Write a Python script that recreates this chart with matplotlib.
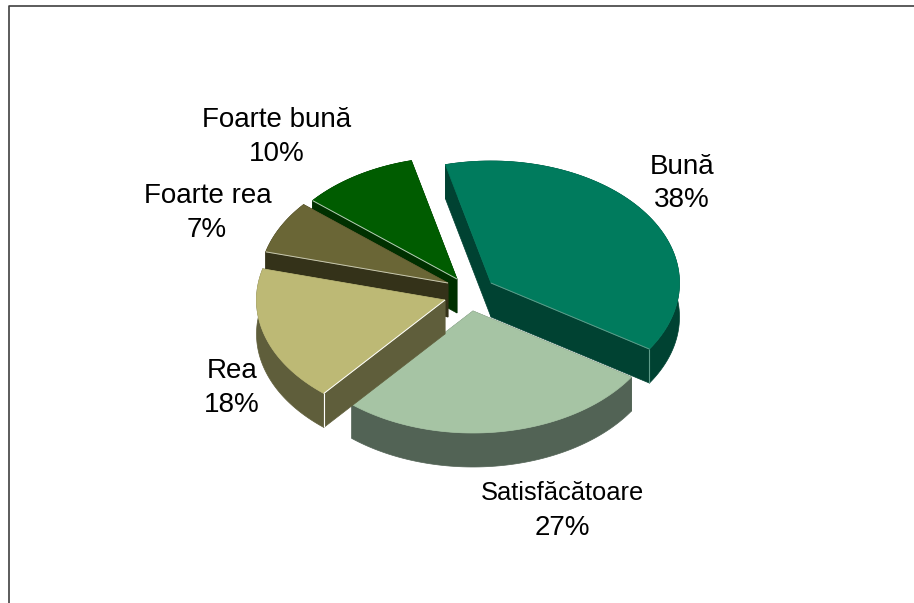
import numpy as np
import matplotlib
matplotlib.use("Agg")
import matplotlib.pyplot as plt
from matplotlib.patches import Polygon

plt.rcParams["font.family"] = ["Liberation Sans", "DejaVu Sans"]

# clockwise from the start angle
categories = ["Bună", "Satisfăcătoare", "Rea", "Foarte rea", "Foarte bună"]
values = [38, 27, 18, 7, 10]

top_colors = ["#007B5D", "#A6C4A4", "#BDB975", "#6A6636", "#005C00"]
side_colors = ["#004232", "#526355", "#5F5E3B", "#343219", "#003000"]
edge_colors = ["#5E9C8A", None, "#FFFFFF", "#C8C8B0", "#B8CDB8"]

# pixel layout of the exploded slices
centers = [(491, 283), (473, 311), (445, 300), (448, 283), (457, 279)]
name_pos = [(682, 164), (562, 491), (232, 368), (208, 193), (277, 117)]
pct_pos = [(682, 197), (562, 525), (232, 402), (207, 227), (277, 151)]
name_sizes = [20, 18.4, 20, 20, 20]
draw_order = [1, 4, 3, 2, 0]

START = 104
RX, RY = 188.5, 122
DEPTH = 34


def arc(center, a0, a1):
    t = np.radians(np.linspace(a0, a1, 80))
    return np.column_stack([center[0] + RX * np.cos(t), center[1] - RY * np.sin(t)])


def draw_slice(ax, i, a0, a1, z):
    c = np.array(centers[i], dtype=float)
    pts = arc(c, a0, a1)
    down = np.array([0, DEPTH])
    side = side_colors[i]

    # radial walls, then the rim, then the top face
    for p in (pts[0], pts[-1]):
        ax.add_patch(Polygon([c, p, p + down, c + down], fc=side, ec=side, lw=0.5, zorder=z))
    rim = np.vstack([pts, (pts + down)[::-1]])
    ax.add_patch(Polygon(rim, fc=side, ec=side, lw=0.5, zorder=z))
    top = np.vstack([c, pts])
    ax.add_patch(Polygon(top, fc=top_colors[i], ec=top_colors[i], lw=0.5, zorder=z + 0.1))

    # thin light line along the lit edge, plus the vertical corner on two slices
    if edge_colors[i] is None:
        return
    p = pts[-1] if i == 0 else pts[0]
    ax.plot([c[0], p[0]], [c[1], p[1]], color=edge_colors[i], lw=0.7,
            solid_capstyle="butt", zorder=z + 0.2)
    if i in (0, 2):
        ax.plot([p[0], p[0]], [p[1], p[1] + DEPTH], color=edge_colors[i], lw=0.8,
                solid_capstyle="butt", zorder=z + 0.2)


fig = plt.figure(figsize=(9.14, 6.03), dpi=100)
ax = fig.add_axes([0, 0, 1, 1])
ax.set_xlim(0, 914)
ax.set_ylim(603, 0)
ax.axis("off")

# slide frame, open at the right and bottom
ax.plot([8.5, 8.5, 914], [603, 5.5, 5.5], color="#404040", lw=1.2)

total = sum(values)
ends = START - np.cumsum(values) / total * 360
starts = np.concatenate([[START], ends[:-1]])
for z, i in enumerate(draw_order, start=2):
    draw_slice(ax, i, starts[i], ends[i], z)

for k, name in enumerate(categories):
    ax.text(*name_pos[k], name, ha="center", va="center_baseline", fontsize=name_sizes[k],
            color="black", zorder=10)
    ax.text(*pct_pos[k], f"{values[k]}%", ha="center", va="center_baseline", fontsize=20,
            color="black", zorder=10)

fig.savefig("out.png", dpi=100)
